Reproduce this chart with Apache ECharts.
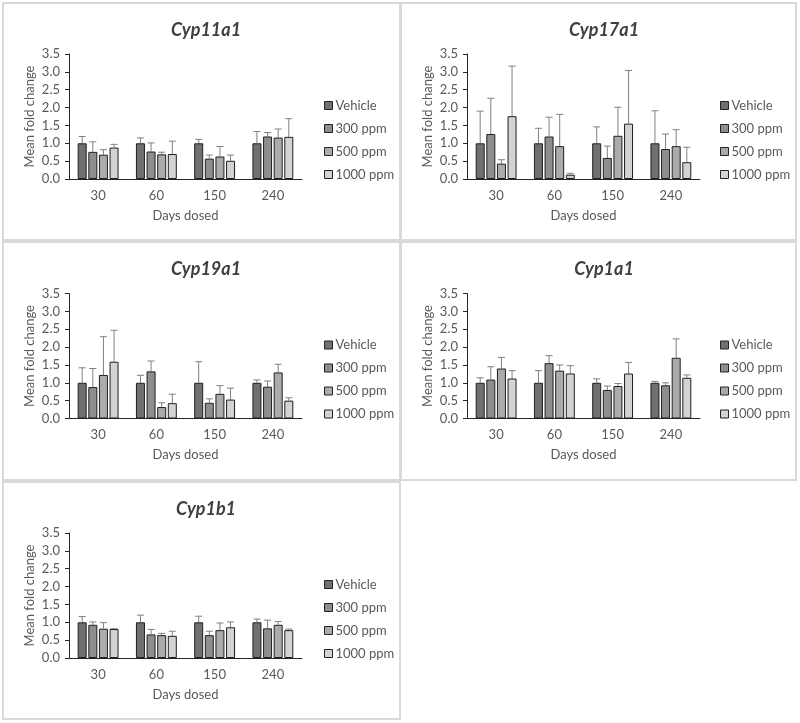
<!DOCTYPE html>
<html><head><meta charset="utf-8">
<script src="https://cdn.jsdelivr.net/npm/echarts@6/dist/echarts.min.js"></script>
<style>html,body{margin:0;padding:0;background:#fff}#c{width:800px;height:723px}</style>
</head><body><div id="c"></div>
<script>
const categories = ['30', '60', '150', '240'];
const doses = ['Vehicle', '300 ppm', '500 ppm', '1000 ppm'];
const yTicks = [0, 0.5, 1.0, 1.5, 2.0, 2.5, 3.0, 3.5];

// rows = dose (Vehicle, 300, 500, 1000), columns = days dosed (30, 60, 150, 240)
const cyp11a1Mean = [[1.00, 1.00, 1.00, 1.00], [0.76, 0.77, 0.57, 1.19], [0.68, 0.69, 0.63, 1.16], [0.88, 0.70, 0.51, 1.18]];
const cyp11a1Sd   = [[0.19, 0.15, 0.11, 0.33], [0.28, 0.24, 0.10, 0.11], [0.14, 0.06, 0.28, 0.24], [0.09, 0.36, 0.16, 0.51]];
const cyp17a1Mean = [[1.00, 1.00, 1.00, 1.00], [1.26, 1.19, 0.59, 0.84], [0.43, 0.92, 1.21, 0.92], [1.76, 0.12, 1.55, 0.47]];
const cyp17a1Sd   = [[0.90, 0.42, 0.46, 0.91], [1.00, 0.54, 0.33, 0.42], [0.11, 0.89, 0.80, 0.46], [1.40, 0.04, 1.49, 0.42]];
const cyp19a1Mean = [[1.00, 1.00, 1.00, 1.00], [0.88, 1.32, 0.44, 0.89], [1.22, 0.32, 0.69, 1.29], [1.59, 0.43, 0.53, 0.50]];
const cyp19a1Sd   = [[0.42, 0.21, 0.59, 0.08], [0.52, 0.29, 0.11, 0.16], [1.07, 0.12, 0.23, 0.23], [0.88, 0.25, 0.32, 0.08]];
const cyp1a1Mean  = [[1.00, 1.00, 1.00, 1.00], [1.09, 1.55, 0.80, 0.93], [1.40, 1.34, 0.91, 1.70], [1.12, 1.26, 1.26, 1.14]];
const cyp1a1Sd    = [[0.14, 0.34, 0.11, 0.04], [0.36, 0.21, 0.11, 0.07], [0.31, 0.16, 0.07, 0.53], [0.22, 0.22, 0.31, 0.08]];
const cyp1b1Mean  = [[1.00, 1.00, 1.00, 1.00], [0.93, 0.66, 0.64, 0.83], [0.82, 0.64, 0.78, 0.93], [0.81, 0.62, 0.86, 0.78]];
const cyp1b1Sd    = [[0.16, 0.20, 0.17, 0.09], [0.08, 0.14, 0.11, 0.23], [0.17, 0.05, 0.20, 0.09], [0.01, 0.13, 0.15, 0.03]];

const panelNames = ['Cyp11a1', 'Cyp17a1', 'Cyp19a1', 'Cyp1a1', 'Cyp1b1'];
const panelMeans = [cyp11a1Mean, cyp17a1Mean, cyp19a1Mean, cyp1a1Mean, cyp1b1Mean];
const panelSds = [cyp11a1Sd, cyp17a1Sd, cyp19a1Sd, cyp1a1Sd, cyp1b1Sd];

const FONT = 'Lato';
const barColors = ['#707070', '#8e8e8e', '#ababab', '#d3d3d3'];
const BAR_W = 9, BAR_GAP = 0.18;
const panelPos = [[0, 0], [398, 0], [0, 239.5], [398, 239.5], [0, 479]];
const legendLeft = [324, 720, 324, 720, 324];
const boxes = [[3, 3, 397, 237], [401, 3, 395, 237], [3, 242, 397, 238], [401, 242, 395, 238], [3, 482, 397, 237]];

const option = {
  animation: false,
  backgroundColor: '#fff',
  textStyle: { fontFamily: FONT },
  title: [], legend: [], grid: [], xAxis: [], yAxis: [], series: [],
  graphic: boxes.map(b => ({
    type: 'rect', silent: true, z: -1,
    shape: { x: b[0], y: b[1], width: b[2], height: b[3] },
    style: { fill: 'none', stroke: '#d9d9d9', lineWidth: 2 }
  }))
};

panelNames.forEach((name, p) => {
  const [ox, oy] = panelPos[p];
  const means = panelMeans[p], sds = panelSds[p];
  option.title.push({
    text: name, left: ox + 201, top: oy + 16, textAlign: 'center',
    textStyle: { fontFamily: FONT, fontSize: 18, fontWeight: 'bold', fontStyle: 'italic', color: '#404040' }
  });
  option.grid.push({ left: ox + 69, top: oy + 54, width: 233, height: 125 });
  option.legend.push({
    orient: 'vertical', left: legendLeft[p], top: oy + 99, padding: 0, itemWidth: 8, itemHeight: 8, itemGap: 10,
    data: doses, icon: 'rect',
    itemStyle: { borderColor: '#222', borderWidth: 1 },
    textStyle: { fontFamily: FONT, fontSize: 13, color: '#595959', padding: [0, 0, 0, -2] }
  });
  option.xAxis.push({
    type: 'category', gridIndex: p, data: categories,
    axisLine: { lineStyle: { color: '#262626', width: 1 } },
    axisTick: { show: false },
    axisLabel: { color: '#595959', fontSize: 13, fontFamily: FONT, margin: 10 },
    name: 'Days dosed', nameLocation: 'middle', nameGap: 30,
    nameTextStyle: { color: '#595959', fontSize: 13, fontFamily: FONT }
  });
  option.yAxis.push({
    type: 'value', gridIndex: p, min: yTicks[0], max: yTicks[yTicks.length - 1], interval: 0.5,
    splitLine: { show: false },
    axisLine: { show: true, lineStyle: { color: '#262626', width: 1 } },
    axisTick: { show: true, length: 4, lineStyle: { color: '#262626' } },
    axisLabel: { color: '#595959', fontSize: 13, fontFamily: FONT, margin: 9, formatter: v => v.toFixed(1) },
    name: 'Mean fold change', nameLocation: 'middle', nameGap: 33,
    nameTextStyle: { color: '#595959', fontSize: 13, fontFamily: FONT }
  });
  doses.forEach((d, k) => {
    option.series.push({
      type: 'bar', name: d, xAxisIndex: p, yAxisIndex: p, data: means[k],
      barWidth: BAR_W, barGap: (BAR_GAP * 100) + '%',
      itemStyle: { color: barColors[k], borderColor: '#1f1f1f', borderWidth: 1 }
    });
  });
  doses.forEach((d, k) => {
    const errData = categories.map((c, i) => [i, means[k][i], means[k][i] + sds[k][i]]);
    option.series.push({
      type: 'custom', name: d + ' err', xAxisIndex: p, yAxisIndex: p, z: 1,
      data: errData,
      renderItem: (params, api) => {
        const i = api.value(0);
        const base = api.coord([i, api.value(1)]);
        const top = api.coord([i, api.value(2)]);
        const total = 4 * BAR_W + 3 * BAR_W * BAR_GAP;
        const cx = base[0] - total / 2 + k * BAR_W * (1 + BAR_GAP) + BAR_W / 2;
        const cap = 3.5;
        return {
          type: 'group', children: [
            { type: 'line', shape: { x1: cx, y1: base[1], x2: cx, y2: top[1] }, style: { stroke: '#808080', lineWidth: 1 } },
            { type: 'line', shape: { x1: cx - cap, y1: top[1], x2: cx + cap, y2: top[1] }, style: { stroke: '#808080', lineWidth: 1 } }
          ]
        };
      }
    });
  });
});

const chart = echarts.init(document.getElementById('c'), null, { renderer: 'canvas' });
chart.setOption(option);
</script>
</body></html>
